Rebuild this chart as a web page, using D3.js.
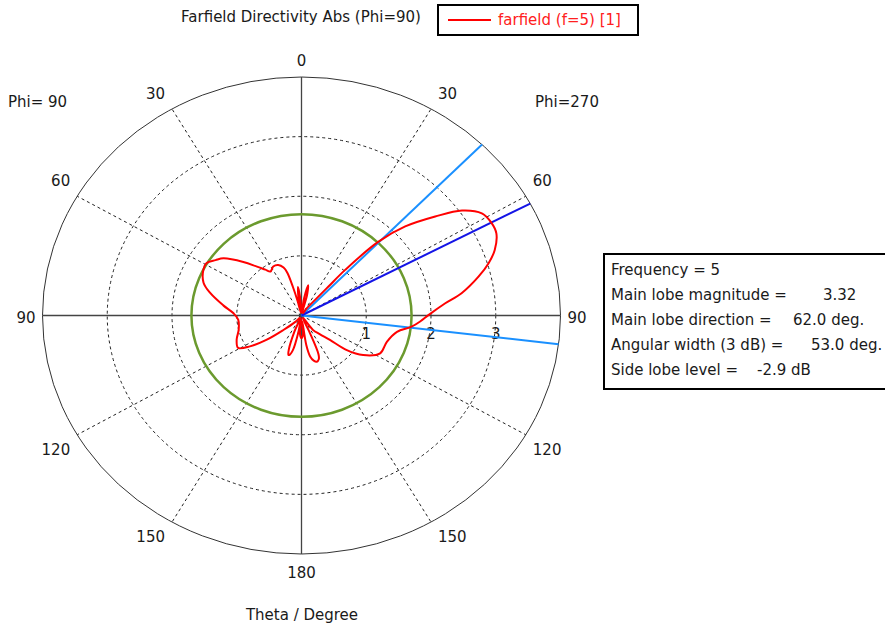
<!DOCTYPE html>
<html>
<head>
<meta charset="utf-8">
<script src="https://cdn.jsdelivr.net/npm/d3@7"></script>
<style>
  html, body { margin: 0; padding: 0; background: #fff; }
  svg { display: block; }
  text { font-family: "DejaVu Sans", Verdana, sans-serif; fill: #1a1a1a; }
</style>
</head>
<body>
<svg id="chart" width="885" height="627"></svg>
<script>
// Farfield directivity cut, Phi=90 half on the left (negative theta), Phi=270 half on the right.
const thetaDeg = [
  -180, -176, -173, -170, -167, -164, -163, -161, -158, -155, -150, -145, -138, -131,
  -127, -123, -119, -112, -104, -94, -88, -82, -75, -70, -63, -59, -55, -51.5, -45,
  -40, -36, -33, -28, -23, -19, -17, -15.5, -14, -12, -9, -6.5, -4, -2, 0, 3,
  6, 8, 11.5, 14, 17, 24, 30, 34, 38.7, 40.6, 41.4, 43.8, 47, 51.2, 54.6, 58.4,
  62, 65.4, 69.8, 73.1, 76.6, 81.4, 84.7, 89.8, 93, 96.3, 100.5, 108.5, 117.6,
  124.9, 129.7, 133, 138, 143.7, 150, 154, 156, 158, 160, 163, 166, 169, 171.5,
  173, 176
];
const directivity = [
  0.38, 0.32, 0.05, 0.30, 0.60, 0.69, 0.69, 0.60, 0.30, 0.05, 0.05, 0.05, 0.15, 0.37,
  0.68, 0.95, 1.12, 1.08, 1.00, 0.98, 1.05, 1.22, 1.46, 1.61, 1.70, 1.71, 1.62, 1.54, 1.27,
  1.07, 0.95, 0.88, 0.93, 0.92, 0.85, 0.75, 0.50, 0.25, 0.05, 0.30, 0.48, 0.30, 0.08, 0.05, 0.05,
  0.10, 0.30, 0.52, 0.35, 0.05, 0.05, 0.05, 0.15, 0.33, 0.64, 1.02, 1.71, 2.19, 2.65, 3.04, 3.27,
  3.32, 3.31, 3.18, 3.02, 2.81, 2.50, 2.23, 1.96, 1.84, 1.71, 1.50, 1.39, 1.37,
  1.16, 0.91, 0.60, 0.42, 0.30, 0.05, 0.05, 0.30, 0.70, 0.78, 0.81, 0.78, 0.70, 0.50,
  0.10, 0.32
];

// Radial and angular ticks
const radialTicks = [1, 2, 3];
const radialMax = 4;
const spokeAngles = [30, 60, 120, 150];
const angleLabels = [0, 30, 60, 90, 120, 150, 180];

// Main lobe markers
const mainLobeDirection = 62.0;
const beamEdges = [44.2, 96.9];
const halfPowerLevel = 1.70;

const titleText = "Farfield Directivity Abs (Phi=90)";
const legendText = "farfield (f=5) [1]";
const infoLabels = ["Frequency = 5", "Main lobe magnitude =", "Main lobe direction =", "Angular width (3 dB) =", "Side lobe level ="];
const infoValues = ["", "3.32", "62.0 deg.", "53.0 deg.", "-2.9 dB"];

const svg = d3.select("#chart");
const cx = 301.5, cy = 315.5;
const xs = d3.scaleLinear().domain([0, radialMax]).range([0, 259]);
const ys = d3.scaleLinear().domain([0, radialMax]).range([0, 238.5]);
const rad = d => d * Math.PI / 180;
const pt = (t, r) => [cx + xs(r) * Math.sin(rad(t)), cy - ys(r) * Math.cos(rad(t))];

const grid = svg.append("g");
// dashed rings
grid.selectAll("ellipse.ring").data(radialTicks).join("ellipse")
  .attr("cx", cx).attr("cy", cy)
  .attr("rx", d => xs(d)).attr("ry", d => ys(d))
  .attr("fill", "none").attr("stroke", "#222").attr("stroke-width", 1)
  .attr("stroke-dasharray", "3,3");
// dashed spokes on both halves
const spokes = spokeAngles.flatMap(a => [a, -a]);
grid.selectAll("line.spoke").data(spokes).join("line")
  .attr("x1", cx).attr("y1", cy)
  .attr("x2", d => pt(d, radialMax)[0]).attr("y2", d => pt(d, radialMax)[1])
  .attr("stroke", "#222").attr("stroke-width", 1).attr("stroke-dasharray", "3,3");
// outer boundary
grid.append("ellipse").attr("cx", cx).attr("cy", cy)
  .attr("rx", xs(radialMax)).attr("ry", ys(radialMax))
  .attr("fill", "none").attr("stroke", "#333").attr("stroke-width", 1);
// solid axes
grid.append("line").attr("x1", pt(0, radialMax)[0]).attr("y1", pt(0, radialMax)[1])
  .attr("x2", pt(180, radialMax)[0]).attr("y2", pt(180, radialMax)[1])
  .attr("stroke", "#444").attr("stroke-width", 1.3);
grid.append("line").attr("x1", pt(-90, radialMax)[0]).attr("y1", pt(-90, radialMax)[1])
  .attr("x2", pt(90, radialMax)[0]).attr("y2", pt(90, radialMax)[1])
  .attr("stroke", "#444").attr("stroke-width", 1.3);

// radial tick labels along the theta=90 axis
svg.selectAll("text.rlab").data(radialTicks).join("text")
  .attr("x", d => pt(90, d)[0]).attr("y", cy + 23)
  .attr("text-anchor", "middle").attr("font-size", 15).text(d => d);

// angle labels
const angData = angleLabels.flatMap(a => (a === 0 || a === 180) ? [a] : [a, -a]);
svg.selectAll("text.alab").data(angData).join("text")
  .attr("x", d => {
    const p = pt(d, radialMax);
    if (d === 0 || d === 180) return p[0];
    return p[0] + (d > 0 ? 7 : -7);
  })
  .attr("y", d => {
    const p = pt(d, radialMax);
    const c = Math.cos(rad(d));
    const off = Math.abs(c) < 0.1 ? 2.5 : (d === 0 ? -16.5 : Math.abs(d) === 180 ? 19 : -15 * Math.sign(c));
    return p[1] + off + 5;
  })
  .attr("text-anchor", d => (d === 0 || d === 180) ? "middle" : (d > 0 ? "start" : "end"))
  .attr("font-size", 15).text(d => Math.abs(d));

// half-power ring
svg.append("ellipse").attr("cx", cx).attr("cy", cy)
  .attr("rx", xs(halfPowerLevel)).attr("ry", ys(halfPowerLevel))
  .attr("fill", "none").attr("stroke", "#6b9a2e").attr("stroke-width", 2.5);

// beam edge and main lobe direction lines
svg.selectAll("line.edge").data(beamEdges).join("line")
  .attr("x1", cx).attr("y1", cy)
  .attr("x2", d => pt(d, radialMax)[0]).attr("y2", d => pt(d, radialMax)[1])
  .attr("stroke", "#1a90ff").attr("stroke-width", 2);
svg.append("line").attr("x1", cx).attr("y1", cy)
  .attr("x2", pt(mainLobeDirection, radialMax)[0]).attr("y2", pt(mainLobeDirection, radialMax)[1])
  .attr("stroke", "#1414e6").attr("stroke-width", 2);

// pattern trace
const pts = thetaDeg.map((t, i) => pt(t, directivity[i]));
svg.append("path").datum(pts)
  .attr("d", d3.line().curve(d3.curveCatmullRomClosed.alpha(0.5)))
  .attr("fill", "none").attr("stroke", "#ff0000").attr("stroke-width", 2);

// title and side captions
svg.append("text").attr("x", 301).attr("y", 22).attr("text-anchor", "middle")
  .attr("font-size", 15).text(titleText);
svg.append("text").attr("x", 8).attr("y", 107).attr("font-size", 15).text("Phi= 90");
svg.append("text").attr("x", 535).attr("y", 107).attr("font-size", 15).text("Phi=270");
svg.append("text").attr("x", 302).attr("y", 620).attr("text-anchor", "middle")
  .attr("font-size", 15).text("Theta / Degree");

// legend
const lg = svg.append("g");
lg.append("rect").attr("x", 438).attr("y", 5).attr("width", 200).attr("height", 30)
  .attr("fill", "#fff").attr("stroke", "#000").attr("stroke-width", 2);
lg.append("line").attr("x1", 448).attr("x2", 491).attr("y1", 20).attr("y2", 20)
  .attr("stroke", "#ff0000").attr("stroke-width", 2);
lg.append("text").attr("x", 498).attr("y", 25).attr("font-size", 15)
  .style("fill", "#ff2020").text(legendText);

// main lobe summary box
const ib = svg.append("g");
ib.append("rect").attr("x", 604).attr("y", 254).attr("width", 300).attr("height", 135)
  .attr("fill", "#fff").attr("stroke", "#000").attr("stroke-width", 2);
const valueX = [0, 823, 793, 811, 757];
infoLabels.forEach((s, i) => {
  ib.append("text").attr("x", 611).attr("y", 275 + i * 25).attr("font-size", 15).text(s);
  if (infoValues[i]) ib.append("text").attr("x", valueX[i]).attr("y", 275 + i * 25)
    .attr("font-size", 15).text(infoValues[i]);
});
</script>
</body>
</html>
